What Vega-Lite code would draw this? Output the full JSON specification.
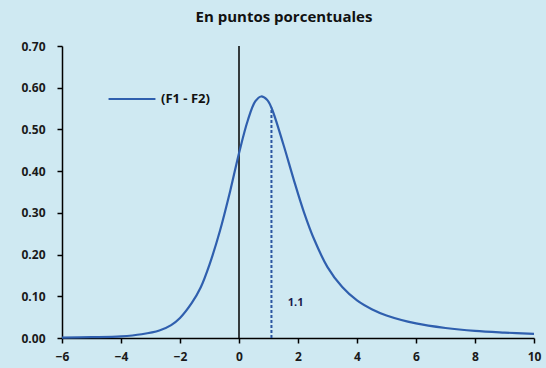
{
  "$schema": "https://vega.github.io/schema/vega-lite/v6.json",
  "autosize": {"type": "none"},
  "width": 472,
  "height": 292,
  "padding": {"left": 62, "top": 46, "right": 12, "bottom": 30},
  "background": "#cfe9f2",
  "config": {
    "view": {"stroke": null},
    "font": "Open Sans"
  },
  "title": {
    "text": "En puntos porcentuales",
    "fontSize": 15,
    "fontWeight": "bold",
    "font": "Open Sans",
    "color": "#111111",
    "anchor": "middle",
    "dx": -14,
    "offset": 15
  },
  "datasets": {
    "curve": [
      {"x": -6, "y": 0.001, "serie": "(F1 - F2)"},
      {"x": -5, "y": 0.002, "serie": "(F1 - F2)"},
      {"x": -4, "y": 0.004, "serie": "(F1 - F2)"},
      {"x": -3.3, "y": 0.009, "serie": "(F1 - F2)"},
      {"x": -2.7, "y": 0.018, "serie": "(F1 - F2)"},
      {"x": -2.3, "y": 0.031, "serie": "(F1 - F2)"},
      {"x": -2.0, "y": 0.048, "serie": "(F1 - F2)"},
      {"x": -1.6, "y": 0.084, "serie": "(F1 - F2)"},
      {"x": -1.3, "y": 0.121, "serie": "(F1 - F2)"},
      {"x": -1.0, "y": 0.176, "serie": "(F1 - F2)"},
      {"x": -0.65, "y": 0.256, "serie": "(F1 - F2)"},
      {"x": -0.3, "y": 0.352, "serie": "(F1 - F2)"},
      {"x": 0, "y": 0.443, "serie": "(F1 - F2)"},
      {"x": 0.3, "y": 0.522, "serie": "(F1 - F2)"},
      {"x": 0.55, "y": 0.567, "serie": "(F1 - F2)"},
      {"x": 0.75, "y": 0.579, "serie": "(F1 - F2)"},
      {"x": 0.95, "y": 0.571, "serie": "(F1 - F2)"},
      {"x": 1.1, "y": 0.552, "serie": "(F1 - F2)"},
      {"x": 1.5, "y": 0.465, "serie": "(F1 - F2)"},
      {"x": 1.85, "y": 0.381, "serie": "(F1 - F2)"},
      {"x": 2.2, "y": 0.302, "serie": "(F1 - F2)"},
      {"x": 2.55, "y": 0.236, "serie": "(F1 - F2)"},
      {"x": 3.0, "y": 0.17, "serie": "(F1 - F2)"},
      {"x": 3.5, "y": 0.122, "serie": "(F1 - F2)"},
      {"x": 4.0, "y": 0.09, "serie": "(F1 - F2)"},
      {"x": 4.5, "y": 0.069, "serie": "(F1 - F2)"},
      {"x": 5.0, "y": 0.054, "serie": "(F1 - F2)"},
      {"x": 6.0, "y": 0.035, "serie": "(F1 - F2)"},
      {"x": 7.0, "y": 0.024, "serie": "(F1 - F2)"},
      {"x": 8.0, "y": 0.017, "serie": "(F1 - F2)"},
      {"x": 9.0, "y": 0.013, "serie": "(F1 - F2)"},
      {"x": 10.0, "y": 0.01, "serie": "(F1 - F2)"}
    ]
  },
  "layer": [
    {
      "data": {"values": [{"x": 0}]},
      "mark": {"type": "rule", "color": "#000000", "strokeWidth": 1.5},
      "encoding": {
        "x": {"field": "x", "type": "quantitative", "scale": {"domain": [-6, 10]}}
      }
    },
    {
      "data": {"values": [{"x": 1.1, "y": 0, "y2": 0.552}]},
      "mark": {"type": "rule", "color": "#2a55a0", "strokeWidth": 2, "strokeDash": [3, 2]},
      "encoding": {
        "x": {"field": "x", "type": "quantitative"},
        "y": {"field": "y", "type": "quantitative"},
        "y2": {"field": "y2"}
      }
    },
    {
      "data": {"values": [{"x": 1.92, "y": 0.084, "label": "1.1"}]},
      "mark": {"type": "text", "fontSize": 11, "fontWeight": "bold", "color": "#1a1a4e", "font": "Open Sans"},
      "encoding": {
        "x": {"field": "x", "type": "quantitative"},
        "y": {"field": "y", "type": "quantitative"},
        "text": {"field": "label"}
      }
    },
    {
      "data": {"name": "curve"},
      "mark": {"type": "line", "interpolate": "catmull-rom", "strokeWidth": 2.2},
      "encoding": {
        "x": {
          "field": "x", "type": "quantitative",
          "scale": {"domain": [-6, 10], "nice": false},
          "axis": {
            "title": null, "values": [-6, -4, -2, 0, 2, 4, 6, 8, 10],
            "domainColor": "#000000", "domainWidth": 1.5,
            "tickColor": "#000000", "tickSize": 5, "tickWidth": 1.5,
            "labelFontSize": 12, "labelFontWeight": "bold", "labelColor": "#1a1a1a",
            "labelPadding": 8, "grid": false, "labelFlush": false
          }
        },
        "y": {
          "field": "y", "type": "quantitative",
          "scale": {"domain": [0, 0.7], "nice": false},
          "axis": {
            "title": null, "values": [0, 0.1, 0.2, 0.3, 0.4, 0.5, 0.6, 0.7],
            "format": ".2f",
            "domainColor": "#000000", "domainWidth": 1.5,
            "tickColor": "#000000", "tickSize": 5, "tickWidth": 1.5,
            "labelFontSize": 12, "labelFontWeight": "bold", "labelColor": "#1a1a1a",
            "labelPadding": 12, "grid": false
          }
        },
        "color": {
          "field": "serie", "type": "nominal",
          "scale": {"range": ["#2f5fae"]},
          "legend": {
            "title": null, "orient": "none", "legendX": 45, "legendY": 28,
            "symbolType": "stroke", "symbolSize": 2200, "symbolStrokeWidth": 2.2,
            "symbolStrokeColor": "#1f3a8a",
            "labelFontSize": 13, "labelFontWeight": "bold", "labelColor": "#111111",
            "labelOffset": 4
          }
        }
      }
    }
  ]
}
